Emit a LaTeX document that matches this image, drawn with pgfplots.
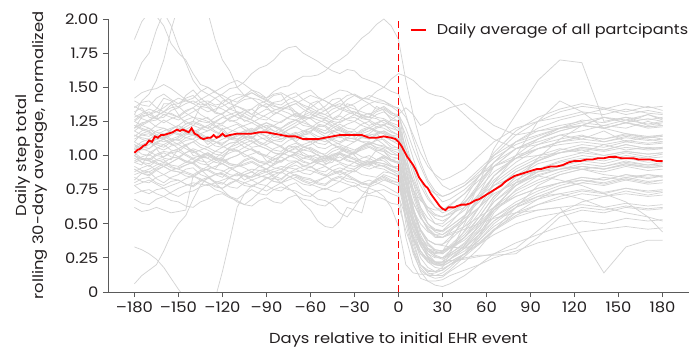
\documentclass[border=0pt]{standalone}
\usepackage{fontspec}
\setmainfont{Poppins}[FakeStretch=1.13]
\usepackage{pgfplots}
\usepackage{pgfplotstable}
\pgfplotsset{compat=1.18}
\definecolor{gl}{RGB}{212,212,212}
\definecolor{axg}{RGB}{90,90,90}
\definecolor{txt}{RGB}{35,31,32}
\definecolor{avgred}{RGB}{255,0,0}

\pgfplotstableread[header=false]{
day -180 -170 -160 -150 -140 -130 -120 -110 -100 -90 -80 -70 -60 -50 -40 -30 -20 -10 0 5 10 15 20 25 30 35 45 55 65 80 95 110 125 140 155 170 180 -175 -165 -155 -145 -135 -125 -115 -105 -95 -85 -75 -65 -55 -45 -35 -25 -15 -5
p1 1.32 1.28 1.38 1.30 1.25 1.35 1.40 1.31 1.27 1.36 1.33 1.29 1.38 1.34 1.30 1.36 1.28 1.33 1.25 1.05 0.85 0.70 0.58 0.50 0.48 0.52 0.60 0.72 0.85 0.98 1.08 1.15 1.18 1.22 1.20 1.25 1.22 1.35 1.27 1.38 1.23 1.36 1.32 1.41 1.25 1.37 1.30 1.36 1.28 1.40 1.27 1.38 1.28 1.36 1.26
p2 0.95 1.02 0.98 1.05 1.00 0.93 0.97 1.04 1.01 0.96 1.00 1.06 0.99 0.94 1.02 1.00 0.97 1.03 0.98 0.80 0.62 0.45 0.35 0.30 0.28 0.32 0.40 0.52 0.66 0.78 0.86 0.90 0.94 0.92 0.96 0.93 0.95 0.93 1.05 0.97 1.08 0.99 0.90 1.05 0.99 1.03 0.94 1.07 1.00 1.01 0.95 1.05 0.95 1.04 0.97
p3 1.10 1.18 1.12 1.22 1.15 1.08 1.20 1.16 1.12 1.19 1.14 1.10 1.17 1.21 1.13 1.18 1.15 1.11 1.06 0.82 0.55 0.35 0.25 0.20 0.22 0.30 0.45 0.62 0.80 0.92 1.00 1.05 1.02 1.08 1.04 1.06 1.05 1.16 1.13 1.19 1.16 1.14 1.12 1.14 1.18 1.17 1.13 1.16 1.15 1.22 1.16 1.17 1.14 1.16 1.06
p4 0.82 0.88 0.80 0.86 0.91 0.84 0.79 0.87 0.85 0.90 0.83 0.88 0.92 0.86 0.81 0.89 0.85 0.88 0.84 0.75 0.65 0.55 0.47 0.42 0.40 0.43 0.48 0.55 0.62 0.70 0.76 0.80 0.82 0.79 0.83 0.80 0.82 0.87 0.83 0.84 0.90 0.86 0.80 0.84 0.82 0.89 0.85 0.87 0.89 0.88 0.82 0.86 0.86 0.84 0.87
p5 1.20 1.30 1.42 1.35 1.48 1.38 1.30 1.26 1.34 1.40 1.45 1.32 1.28 1.36 1.42 1.30 1.38 1.35 1.30 1.20 1.05 0.92 0.80 0.72 0.66 0.68 0.75 0.85 0.95 1.05 1.10 1.15 1.12 1.18 1.10 1.14 1.12 1.28 1.34 1.40 1.44 1.42 1.32 1.25 1.31 1.38 1.44 1.37 1.27 1.33 1.41 1.35 1.35 1.34 1.31
p6 1.00 0.92 0.97 0.90 0.95 1.02 0.98 0.93 0.88 0.94 0.99 0.96 0.91 0.97 1.01 0.95 0.92 0.98 0.90 0.60 0.40 0.25 0.18 0.15 0.16 0.20 0.28 0.38 0.48 0.58 0.64 0.68 0.72 0.70 0.74 0.71 0.73 0.95 0.96 0.92 0.93 0.99 0.98 0.94 0.91 0.92 0.97 0.96 0.92 0.95 1.00 0.97 0.93 0.96 0.93
p7 1.08 1.05 1.12 1.09 1.15 1.11 1.06 1.10 1.14 1.08 1.12 1.17 1.10 1.05 1.09 1.13 1.10 1.07 1.04 0.95 0.82 0.70 0.62 0.57 0.55 0.58 0.65 0.78 0.92 1.05 1.12 1.18 1.22 1.28 1.24 1.30 1.26 1.04 1.10 1.08 1.13 1.12 1.07 1.09 1.13 1.10 1.11 1.15 1.12 1.06 1.08 1.12 1.10 1.08 1.05
p8 1.05 1.00 1.08 1.12 1.03 0.98 1.06 1.10 1.04 1.00 1.07 1.02 1.08 1.12 1.05 1.01 1.09 1.04 1.00 0.78 0.55 0.38 0.30 0.26 0.25 0.28 0.36 0.48 0.62 0.78 0.90 0.96 1.00 0.98 1.02 0.99 1.01 1.01 1.05 1.11 1.07 0.99 1.03 1.09 1.06 1.01 1.05 1.03 1.06 1.11 1.08 1.02 1.06 1.05 1.01
p9 1.18 1.25 1.20 1.15 1.22 1.28 1.19 1.23 1.17 1.24 1.20 1.26 1.21 1.16 1.23 1.19 1.25 1.20 1.15 0.85 0.62 0.45 0.36 0.31 0.30 0.33 0.40 0.50 0.62 0.74 0.82 0.88 0.92 0.90 0.94 0.91 0.92 1.22 1.21 1.17 1.19 1.26 1.22 1.21 1.19 1.21 1.21 1.24 1.22 1.18 1.20 1.20 1.23 1.21 1.17
p10 0.78 0.72 0.76 0.70 0.74 0.79 0.73 0.68 0.75 0.71 0.77 0.74 0.70 0.76 0.73 0.78 0.72 0.75 0.70 0.55 0.40 0.30 0.23 0.20 0.19 0.22 0.28 0.35 0.42 0.50 0.55 0.58 0.62 0.60 0.63 0.61 0.62 0.74 0.75 0.72 0.73 0.77 0.75 0.70 0.72 0.72 0.75 0.75 0.71 0.74 0.74 0.76 0.74 0.74 0.72
p11 1.40 1.36 1.45 1.38 1.42 1.50 1.44 1.39 1.46 1.41 1.37 1.43 1.48 1.40 1.36 1.44 1.41 1.38 1.35 1.28 1.15 1.02 0.92 0.86 0.82 0.84 0.90 1.00 1.10 1.20 1.25 1.28 1.32 1.30 1.34 1.31 1.30 1.37 1.42 1.41 1.40 1.47 1.46 1.41 1.43 1.43 1.38 1.41 1.46 1.43 1.37 1.41 1.42 1.39 1.36
p12 0.88 0.93 0.86 0.91 0.95 0.89 0.84 0.92 0.96 0.90 0.87 0.93 0.89 0.85 0.91 0.88 0.94 0.90 0.85 0.55 0.32 0.18 0.12 0.10 0.11 0.15 0.22 0.32 0.45 0.58 0.68 0.76 0.80 0.84 0.82 0.86 0.84 0.91 0.89 0.89 0.93 0.91 0.86 0.89 0.94 0.93 0.88 0.91 0.90 0.87 0.89 0.89 0.92 0.91 0.87
p13 1.15 1.10 1.06 1.13 1.18 1.12 1.08 1.14 1.19 1.11 1.07 1.13 1.16 1.10 1.15 1.12 1.08 1.14 1.10 0.90 0.72 0.58 0.50 0.46 0.45 0.48 0.56 0.68 0.82 0.95 1.05 1.10 1.14 1.12 1.16 1.13 1.15 1.12 1.08 1.10 1.16 1.15 1.10 1.12 1.17 1.14 1.09 1.11 1.15 1.12 1.13 1.13 1.10 1.12 1.11
p14 1.85 2.05 1.95 1.75 1.60 1.50 1.42 1.36 1.30 1.38 1.33 1.28 1.35 1.30 1.26 1.32 1.28 1.24 1.20 1.00 0.80 0.62 0.50 0.44 0.42 0.45 0.52 0.62 0.75 0.88 0.96 1.02 1.06 1.04 1.08 1.05 1.06 1.98 2.02 1.82 1.70 1.52 1.47 1.38 1.34 1.35 1.34 1.31 1.32 1.32 1.27 1.30 1.29 1.27 1.22
p15 1.30 1.45 1.70 2.10 2.20 2.05 1.70 1.50 1.42 1.38 1.35 1.40 1.33 1.30 1.36 1.32 1.28 1.34 1.28 1.15 0.98 0.82 0.70 0.62 0.58 0.60 0.66 0.76 0.88 0.98 1.05 1.10 1.14 1.12 1.15 1.13 1.14 1.40 1.55 1.92 2.15 2.12 1.85 1.62 1.44 1.41 1.36 1.38 1.36 1.31 1.34 1.33 1.30 1.32 1.30
p16 1.25 1.30 1.28 1.35 1.40 1.38 1.45 1.50 1.60 1.66 1.76 1.80 1.72 1.65 1.60 1.62 1.55 1.50 1.45 1.30 1.12 0.95 0.82 0.74 0.70 0.72 0.78 0.88 0.98 1.08 1.14 1.20 1.24 1.22 1.26 1.23 1.25 1.29 1.27 1.33 1.38 1.37 1.42 1.49 1.54 1.64 1.70 1.79 1.75 1.69 1.62 1.63 1.57 1.53 1.47
p17 1.20 1.25 1.30 1.28 1.35 1.40 1.38 1.45 1.48 1.42 1.50 1.55 1.58 1.62 1.70 1.80 1.90 2.00 1.85 1.55 1.30 1.10 0.95 0.85 0.78 0.75 0.80 0.90 1.00 1.10 1.15 1.20 1.22 1.20 1.24 1.21 1.22 1.24 1.26 1.31 1.32 1.39 1.37 1.43 1.44 1.46 1.47 1.51 1.58 1.59 1.67 1.74 1.86 1.96 1.95
p18 1.35 1.40 1.32 1.38 1.44 1.36 1.30 1.38 1.42 1.35 1.40 1.46 1.38 1.33 1.40 1.45 1.42 1.50 1.60 1.58 1.55 1.50 1.46 1.44 1.43 1.40 1.30 1.20 1.12 1.05 1.08 1.12 1.15 1.10 1.14 1.12 1.10 1.39 1.35 1.37 1.42 1.39 1.31 1.35 1.41 1.38 1.39 1.44 1.41 1.34 1.37 1.44 1.42 1.47 1.56
p19 0.33 0.28 0.18 0.02 -0.10 -0.10 0.15 0.62 0.78 0.84 0.82 0.90 0.86 0.92 0.88 0.95 0.90 0.93 0.88 0.70 0.52 0.38 0.28 0.22 0.20 0.24 0.32 0.42 0.55 0.66 0.74 0.80 0.84 0.82 0.86 0.83 0.85 0.31 0.24 0.10 -0.05 -0.12 -0.05 0.38 0.72 0.80 0.83 0.87 0.87 0.90 0.89 0.92 0.92 0.92 0.90
p20 0.06 0.16 0.30 0.50 0.68 0.84 0.88 0.92 0.95 0.90 0.96 1.00 0.94 0.98 1.02 0.97 0.93 0.99 0.95 0.75 0.55 0.40 0.32 0.27 0.25 0.28 0.35 0.46 0.60 0.72 0.80 0.86 0.90 0.88 0.92 0.89 0.90 0.12 0.20 0.42 0.56 0.78 0.86 0.91 0.93 0.92 0.94 0.99 0.96 0.97 1.01 0.99 0.94 0.97 0.96
p21 0.62 0.60 0.60 0.59 0.85 0.80 0.76 0.82 0.88 0.84 0.80 0.86 0.83 0.79 0.85 0.82 0.78 0.84 0.80 0.60 0.42 0.30 0.24 0.20 0.19 0.22 0.28 0.36 0.46 0.56 0.64 0.70 0.74 0.72 0.76 0.73 0.74 0.59 0.62 0.58 0.60 0.83 0.77 0.80 0.86 0.85 0.81 0.84 0.84 0.80 0.83 0.83 0.79 0.82 0.81
p22 0.92 0.88 0.94 0.90 0.86 0.92 0.89 0.85 0.90 0.88 0.80 0.72 0.60 0.48 0.52 0.60 0.78 0.86 0.82 0.65 0.50 0.38 0.30 0.26 0.24 0.27 0.33 0.42 0.52 0.62 0.68 0.72 0.75 0.73 0.76 0.74 0.75 0.89 0.91 0.91 0.88 0.89 0.90 0.86 0.88 0.89 0.84 0.76 0.65 0.52 0.47 0.62 0.58 0.82 0.84
p23 0.84 0.80 0.86 0.82 0.78 0.84 0.80 0.76 0.82 0.78 0.74 0.80 0.72 0.67 0.58 0.62 0.77 0.82 0.78 0.62 0.45 0.34 0.26 0.22 0.21 0.24 0.30 0.40 0.52 0.64 0.72 0.78 0.82 0.80 0.84 0.81 0.82 0.81 0.84 0.83 0.79 0.82 0.81 0.77 0.80 0.79 0.75 0.78 0.75 0.68 0.64 0.55 0.70 0.79 0.80
p24 0.90 0.86 0.92 0.88 0.84 0.90 0.86 0.82 0.88 0.84 0.80 0.86 0.82 0.78 0.84 0.80 0.76 0.70 0.48 0.20 0.14 0.13 0.13 0.14 0.16 0.20 0.25 0.27 0.27 0.28 0.40 0.55 0.60 0.58 0.62 0.60 0.61 0.87 0.90 0.89 0.85 0.88 0.87 0.83 0.86 0.85 0.81 0.84 0.83 0.79 0.82 0.81 0.77 0.74 0.62
p25 1.00 0.96 1.02 0.98 0.94 1.00 0.96 0.92 0.98 0.94 0.90 0.96 0.92 0.88 0.94 0.90 0.96 0.92 0.88 0.65 0.45 0.30 0.22 0.18 0.17 0.20 0.26 0.35 0.45 0.55 0.60 0.62 0.40 0.14 0.33 0.38 0.38 0.97 1.00 0.99 0.95 0.98 0.97 0.93 0.96 0.95 0.91 0.94 0.93 0.89 0.92 0.91 0.94 0.93 0.89
p26 1.05 1.10 1.04 1.08 1.12 1.06 1.02 1.08 1.13 1.07 1.03 1.09 1.05 1.01 1.07 1.03 1.09 1.05 1.00 0.72 0.50 0.36 0.30 0.28 0.30 0.38 0.55 0.80 1.05 1.30 1.55 1.70 1.68 1.25 1.28 1.22 1.24 1.08 1.06 1.07 1.11 1.08 1.03 1.06 1.11 1.09 1.04 1.07 1.06 1.02 1.05 1.04 1.07 1.06 1.01
p27 0.96 1.01 0.95 0.99 1.04 0.98 0.94 1.00 1.05 0.99 0.95 1.01 0.97 0.93 0.99 0.95 1.00 0.96 0.90 0.55 0.30 0.15 0.08 0.05 0.04 0.06 0.12 0.20 0.28 0.36 0.42 0.48 0.52 0.50 0.54 0.52 0.53 0.99 0.97 0.98 1.02 1.00 0.95 0.98 1.03 1.01 0.96 0.99 0.98 0.94 0.97 0.96 0.98 0.97 0.92
p28 1.26 1.32 1.24 1.29 1.35 1.27 1.23 1.30 1.34 1.28 1.24 1.31 1.27 1.22 1.29 1.25 1.31 1.27 1.22 1.05 0.90 0.78 0.68 0.62 0.60 0.63 0.72 0.85 1.00 1.15 1.25 1.32 1.36 1.34 1.38 1.35 1.36 1.30 1.27 1.27 1.33 1.30 1.24 1.28 1.33 1.30 1.25 1.28 1.28 1.23 1.26 1.26 1.29 1.28 1.24
p29 1.02 0.97 1.03 0.99 0.95 1.01 0.97 0.93 0.99 0.95 1.02 0.98 0.94 1.00 0.96 1.02 0.98 0.94 0.92 0.85 0.75 0.67 0.62 0.60 0.60 0.64 0.72 0.82 0.92 1.00 1.05 1.08 1.10 1.08 1.11 1.09 1.10 0.98 1.01 1.02 0.96 0.99 0.98 0.94 0.97 0.96 0.99 1.00 0.95 0.98 0.97 1.00 0.99 0.95 0.92
p30 1.18 1.14 1.20 1.16 1.12 1.18 1.22 1.17 1.13 1.19 1.15 1.21 1.17 1.13 1.19 1.15 1.21 1.17 1.12 0.90 0.70 0.55 0.46 0.41 0.40 0.42 0.46 0.50 0.54 0.58 0.60 0.62 0.64 0.62 0.65 0.63 0.64 1.15 1.18 1.18 1.13 1.16 1.21 1.19 1.14 1.17 1.16 1.19 1.18 1.14 1.17 1.16 1.19 1.18 1.14
p31 1.06 1.12 1.08 1.03 1.10 1.14 1.07 1.03 1.09 1.13 1.06 1.02 1.08 1.12 1.06 1.02 1.08 1.12 1.05 0.80 0.60 0.45 0.38 0.35 0.35 0.40 0.52 0.68 0.85 1.00 1.12 1.20 1.26 1.24 1.28 1.26 1.28 1.10 1.09 1.04 1.07 1.13 1.10 1.04 1.06 1.12 1.09 1.03 1.06 1.11 1.08 1.03 1.06 1.11 1.08
p32 0.98 0.94 0.99 1.03 0.97 0.93 0.99 1.04 0.98 0.94 1.00 1.05 0.99 0.95 1.01 0.97 0.93 0.99 0.94 0.75 0.60 0.50 0.44 0.42 0.42 0.46 0.54 0.62 0.72 0.80 0.85 0.82 0.78 0.72 0.66 0.55 0.44 0.95 0.97 1.02 1.00 0.94 0.96 1.02 1.01 0.95 0.97 1.03 1.02 0.96 0.98 0.99 0.94 0.97 0.96
p33 1.22 1.17 1.13 1.19 1.25 1.20 1.15 1.12 1.18 1.24 1.19 1.14 1.20 1.26 1.21 1.16 1.12 1.18 1.14 0.95 0.80 0.68 0.60 0.56 0.55 0.57 0.62 0.70 0.78 0.85 0.88 0.90 0.92 0.90 0.93 0.91 0.92 1.19 1.14 1.16 1.23 1.23 1.17 1.13 1.15 1.22 1.22 1.16 1.17 1.24 1.24 1.18 1.13 1.16 1.15
p34 0.80 0.84 0.78 0.82 0.77 0.83 0.87 0.81 0.77 0.83 0.88 0.82 0.78 0.84 0.89 0.83 0.79 0.85 0.80 0.62 0.46 0.36 0.31 0.29 0.29 0.33 0.42 0.55 0.70 0.82 0.90 0.95 0.98 0.96 1.00 0.98 0.99 0.83 0.80 0.81 0.79 0.81 0.86 0.84 0.78 0.80 0.86 0.85 0.79 0.81 0.87 0.86 0.80 0.83 0.82
p35 1.55 1.75 2.05 1.80 1.55 1.45 1.38 1.32 1.28 1.34 1.30 1.26 1.32 1.28 1.24 1.30 1.26 1.22 1.18 0.95 0.75 0.60 0.50 0.45 0.44 0.48 0.56 0.66 0.78 0.90 0.98 1.02 1.06 1.04 1.08 1.05 1.06 1.68 1.92 1.95 1.68 1.48 1.42 1.34 1.31 1.31 1.32 1.27 1.29 1.30 1.25 1.27 1.28 1.23 1.20
p36 1.12 1.16 1.10 1.14 1.19 1.13 1.09 1.15 1.20 1.14 1.10 1.16 1.12 1.08 1.14 1.10 1.16 1.22 1.30 1.35 1.30 1.22 1.25 1.30 1.32 1.35 1.38 1.30 1.22 1.15 1.18 1.20 1.22 1.20 1.24 1.21 1.22 1.15 1.12 1.12 1.17 1.16 1.10 1.12 1.18 1.17 1.11 1.14 1.14 1.09 1.12 1.11 1.14 1.20 1.26
p37 1.30 1.25 1.32 1.36 1.28 1.24 1.31 1.36 1.30 1.26 1.33 1.38 1.31 1.27 1.34 1.30 1.26 1.32 1.25 0.90 0.60 0.38 0.26 0.21 0.20 0.24 0.34 0.50 0.68 0.85 0.96 1.04 1.08 1.06 1.10 1.08 1.09 1.27 1.29 1.35 1.31 1.25 1.28 1.34 1.33 1.27 1.30 1.36 1.34 1.28 1.31 1.32 1.27 1.30 1.28
p38 0.68 0.64 0.70 0.66 0.62 0.68 0.72 0.67 0.63 0.69 0.65 0.71 0.67 0.63 0.69 0.65 0.71 0.68 0.64 0.45 0.30 0.20 0.16 0.15 0.16 0.20 0.28 0.38 0.50 0.62 0.70 0.76 0.80 0.78 0.82 0.79 0.80 0.65 0.68 0.67 0.63 0.66 0.71 0.69 0.64 0.67 0.66 0.69 0.68 0.64 0.67 0.66 0.69 0.70 0.65
p39 1.08 1.03 0.99 1.05 1.10 1.04 1.00 1.06 1.11 1.05 1.01 1.07 1.03 0.99 1.05 1.01 1.07 1.03 0.98 0.70 0.48 0.34 0.26 0.22 0.22 0.26 0.34 0.44 0.55 0.64 0.70 0.72 0.68 0.62 0.58 0.55 0.52 1.05 1.00 1.03 1.08 1.06 1.01 1.04 1.09 1.07 1.02 1.05 1.04 1.00 1.03 1.02 1.05 1.04 0.99
p40 1.14 1.20 1.16 1.11 1.17 1.22 1.15 1.11 1.17 1.22 1.16 1.12 1.18 1.22 1.16 1.12 1.18 1.23 1.15 0.70 0.38 0.20 0.14 0.12 0.12 0.16 0.26 0.40 0.58 0.75 0.85 0.90 0.92 0.90 0.94 0.92 0.93 1.18 1.17 1.12 1.15 1.20 1.18 1.12 1.15 1.20 1.18 1.13 1.16 1.21 1.18 1.13 1.16 1.21 1.18
p41 1.00 1.08 1.15 1.22 1.28 1.25 1.18 1.12 1.06 1.10 1.18 1.24 1.30 1.26 1.20 1.14 1.20 1.16 1.08 0.80 0.58 0.45 0.38 0.35 0.34 0.33 0.32 0.36 0.45 0.62 0.78 0.86 0.90 0.92 0.95 0.93 0.94 1.05 1.12 1.19 1.26 1.27 1.21 1.14 1.09 1.07 1.15 1.21 1.28 1.28 1.22 1.17 1.18 1.17 1.11
p42 1.25 1.20 1.12 1.05 0.98 0.95 1.02 1.10 1.16 1.22 1.18 1.10 1.04 0.98 1.03 1.10 1.15 1.08 1.00 0.60 0.35 0.20 0.15 0.15 0.18 0.28 0.50 0.72 0.92 1.05 1.12 1.18 1.22 1.20 1.24 1.20 1.21 1.22 1.15 1.09 1.01 0.96 0.98 1.06 1.13 1.20 1.21 1.14 1.07 1.00 1.00 1.07 1.13 1.12 1.03
p43 1.42 1.48 1.52 1.45 1.38 1.44 1.50 1.55 1.48 1.42 1.46 1.40 1.35 1.42 1.48 1.44 1.38 1.40 1.32 1.10 0.90 0.72 0.60 0.54 0.52 0.55 0.65 0.80 0.95 1.10 1.20 1.26 1.30 1.34 1.30 1.33 1.31 1.46 1.49 1.49 1.41 1.41 1.47 1.53 1.52 1.44 1.45 1.43 1.37 1.39 1.45 1.47 1.41 1.40 1.36
p44 0.95 0.98 0.92 0.88 0.85 0.90 0.94 0.88 0.82 0.86 0.90 0.85 0.80 0.84 0.88 0.82 0.78 0.83 0.78 0.55 0.38 0.28 0.24 0.22 0.22 0.23 0.24 0.26 0.28 0.32 0.45 0.58 0.66 0.70 0.72 0.70 0.71 0.97 0.95 0.89 0.87 0.88 0.92 0.91 0.85 0.84 0.88 0.88 0.82 0.82 0.86 0.85 0.80 0.81 0.80
p45 1.10 1.05 1.12 1.18 1.24 1.20 1.28 1.32 1.26 1.20 1.25 1.30 1.22 1.18 1.25 1.28 1.22 1.26 1.20 1.05 0.92 0.82 0.76 0.72 0.70 0.72 0.78 0.86 0.92 0.98 1.00 1.02 1.04 1.00 1.03 1.01 1.02 1.07 1.09 1.15 1.21 1.22 1.24 1.30 1.29 1.23 1.22 1.28 1.26 1.20 1.22 1.27 1.25 1.24 1.23
p46 0.90 0.85 0.92 0.98 1.05 1.00 0.94 0.88 0.84 0.90 0.96 1.02 0.98 0.92 0.86 0.90 0.95 0.92 0.86 0.50 0.28 0.16 0.12 0.12 0.14 0.18 0.28 0.42 0.60 0.80 0.98 1.12 1.22 1.28 1.26 1.30 1.27 0.87 0.89 0.95 1.02 1.03 0.97 0.91 0.86 0.87 0.93 0.99 1.00 0.95 0.89 0.88 0.93 0.94 0.89
p47 1.22 1.18 1.26 1.20 1.15 1.22 1.28 1.24 1.18 1.14 1.20 1.26 1.22 1.16 1.20 1.25 1.20 1.16 1.12 0.85 0.60 0.46 0.38 0.35 0.35 0.38 0.48 0.62 0.80 1.00 1.25 1.40 1.32 1.20 1.16 1.14 1.15 1.20 1.22 1.23 1.17 1.19 1.25 1.26 1.21 1.16 1.17 1.23 1.24 1.19 1.18 1.23 1.22 1.18 1.14
p48 0.72 0.75 0.70 0.76 0.80 0.78 0.82 0.86 0.84 0.88 0.92 0.90 0.94 0.98 0.95 0.92 0.96 0.94 0.90 0.68 0.50 0.40 0.34 0.31 0.30 0.32 0.38 0.48 0.60 0.70 0.76 0.80 0.84 0.82 0.86 0.84 0.85 0.74 0.72 0.73 0.78 0.79 0.80 0.84 0.85 0.86 0.90 0.91 0.92 0.96 0.97 0.93 0.94 0.95 0.92
p49 1.28 1.34 1.30 1.26 1.32 1.38 1.34 1.28 1.24 1.30 1.35 1.32 1.27 1.33 1.38 1.34 1.30 1.36 1.28 0.90 0.62 0.42 0.32 0.28 0.28 0.32 0.40 0.52 0.66 0.80 0.88 0.92 0.90 0.86 0.84 0.86 0.85 1.31 1.32 1.28 1.29 1.35 1.36 1.31 1.26 1.27 1.33 1.34 1.29 1.30 1.36 1.36 1.32 1.33 1.32
p50 1.04 1.10 1.14 1.08 1.02 1.06 1.12 1.16 1.10 1.05 1.00 1.06 1.10 1.14 1.08 1.04 1.10 1.06 1.02 0.82 0.66 0.54 0.48 0.45 0.45 0.50 0.62 0.78 0.95 1.10 1.18 1.22 1.25 1.28 1.24 1.27 1.25 1.07 1.12 1.11 1.05 1.04 1.09 1.14 1.13 1.07 1.02 1.03 1.08 1.12 1.11 1.06 1.07 1.08 1.04
p51 0.86 0.90 0.95 0.92 0.98 1.02 0.96 1.00 1.05 1.00 0.96 1.02 1.06 1.00 0.96 1.02 1.06 1.00 0.95 0.62 0.40 0.28 0.22 0.20 0.20 0.24 0.32 0.45 0.62 0.78 0.88 0.92 0.96 0.94 0.98 0.95 0.96 0.88 0.93 0.93 0.95 1.00 0.99 0.98 1.03 1.02 0.98 0.99 1.04 1.03 0.98 0.99 1.04 1.03 0.97
p52 1.15 1.12 1.18 1.22 1.16 1.10 1.14 1.20 1.24 1.18 1.12 1.16 1.20 1.14 1.10 1.16 1.12 1.18 1.12 0.92 0.75 0.62 0.54 0.50 0.50 0.55 0.68 0.85 1.02 1.18 1.28 1.34 1.38 1.35 1.32 1.36 1.33 1.13 1.15 1.20 1.19 1.13 1.12 1.17 1.22 1.21 1.15 1.14 1.18 1.17 1.12 1.13 1.14 1.15 1.15
p53 1.00 0.96 0.92 0.98 0.94 0.85 0.75 0.66 0.68 0.78 0.88 0.95 1.00 0.96 1.02 0.98 0.94 1.00 0.95 0.70 0.50 0.38 0.32 0.30 0.30 0.34 0.44 0.58 0.74 0.88 0.96 1.02 1.05 1.03 1.06 1.04 1.05 0.98 0.94 0.95 0.96 0.90 0.80 0.70 0.64 0.73 0.83 0.92 0.98 0.98 0.99 1.00 0.96 0.97 0.97
p54 1.36 1.30 1.35 1.42 1.38 1.32 1.36 1.42 1.46 1.40 1.34 1.38 1.44 1.40 1.34 1.38 1.44 1.40 1.34 1.00 0.75 0.56 0.45 0.40 0.40 0.44 0.55 0.70 0.85 0.98 1.05 1.10 1.12 1.10 1.13 1.11 1.12 1.33 1.32 1.39 1.40 1.35 1.34 1.39 1.44 1.43 1.37 1.36 1.41 1.42 1.37 1.36 1.41 1.42 1.37
p55 0.78 0.82 0.76 0.80 0.85 0.80 0.76 0.82 0.78 0.74 0.80 0.84 0.79 0.75 0.81 0.77 0.82 0.78 0.72 0.40 0.20 0.10 0.08 0.08 0.09 0.12 0.16 0.20 0.25 0.30 0.36 0.40 0.44 0.46 0.48 0.46 0.47 0.80 0.79 0.78 0.83 0.82 0.78 0.79 0.80 0.76 0.77 0.82 0.81 0.77 0.78 0.79 0.80 0.80 0.75
p56 1.20 1.26 1.32 1.28 1.22 1.18 1.24 1.30 1.26 1.20 1.16 1.22 1.28 1.24 1.18 1.14 1.20 1.26 1.18 0.80 0.52 0.36 0.28 0.25 0.25 0.30 0.40 0.55 0.70 0.84 0.94 0.98 1.02 1.00 1.03 1.01 1.02 1.23 1.29 1.30 1.25 1.20 1.21 1.27 1.28 1.23 1.18 1.19 1.25 1.26 1.21 1.16 1.17 1.23 1.22
}\raw
\pgfplotstabletranspose[colnames from=0]\datau\raw
\pgfplotstablesort[sort key=day]\data\datau

\newcommand{\fs}{\fontsize{14.5bp}{17bp}\selectfont}

\begin{document}
\begin{tikzpicture}
\useasboundingbox (0,0) rectangle (689bp,351bp);
\begin{axis}[
  at={(108bp,59bp)}, anchor=south west,
  scale only axis, width=581bp, height=273bp,
  xmin=-198, xmax=198, ymin=0, ymax=2,
  axis lines=left,
  axis line style={-, draw=axg, line width=0.9bp},
  tick style={draw=axg, line width=0.9bp},
  tick align=outside, major tick length=5bp,
  xtick={-180,-150,-120,-90,-60,-30,0,30,60,90,120,150,180},
  xticklabels={–180,–150,–120,–90,–60,–30,0,30,60,90,120,150,180},
  ytick={0,0.25,0.5,0.75,1,1.25,1.5,1.75,2},
  yticklabels={0,0.25,0.50,0.75,1.00,1.25,1.50,1.75,2.00},
  tick label style={font=\fs, text=txt},
  xticklabel style={yshift=-1bp},
  yticklabel style={xshift=-1bp},
  xlabel={Days relative to initial EHR event},
  ylabel={Daily step total\\rolling 30-day average, normalized},
  label style={font=\fs, text=txt},
  xlabel style={at={(axis description cs:0.5,-0.176)}, anchor=center},
  ylabel style={at={(axis description cs:-0.1325,0.5)}, anchor=center, align=center},
  legend style={at={(0.52,0.96)}, anchor=west, draw=none, fill=none, inner sep=0pt, font=\fontsize{14.2bp}{17bp}\selectfont, text=txt},
  legend cell align=left,
  legend image code/.code={\draw[avgred, line width=1.2bp] (0bp,0bp) -- (15bp,0bp); \path (23bp,0bp);},
]
\pgfplotsinvokeforeach{1,...,56}{
  \addplot[gl, line width=0.75bp, forget plot] table[x=day, y=p#1] {\data};
}
\addplot[avgred, line width=1.1bp, dash pattern=on 7bp off 4bp, forget plot] coordinates {(0,0) (0,2)};
\addplot[avgred, line width=1.8bp] coordinates {
(-180,1.02)(-178,1.04)(-176,1.05)(-174,1.07)(-172,1.08)(-170,1.11)(-168,1.10)(-166,1.14)(-164,1.13)(-162,1.15)
(-160,1.15)(-157,1.16)(-154,1.17)(-151,1.19)(-149,1.18)(-147,1.19)(-145,1.18)(-143,1.17)(-141,1.20)(-139,1.16)
(-137,1.15)(-135,1.13)(-133,1.12)(-130,1.13)(-128,1.13)(-126,1.15)(-124,1.13)(-122,1.14)(-120,1.16)(-118,1.14)
(-115,1.15)(-110,1.16)(-105,1.16)(-100,1.16)(-95,1.17)(-90,1.17)(-85,1.16)(-80,1.15)(-75,1.14)(-70,1.14)
(-65,1.12)(-60,1.12)(-55,1.12)(-50,1.13)(-45,1.14)(-40,1.15)(-35,1.15)(-30,1.15)(-25,1.15)(-20,1.13)
(-15,1.13)(-10,1.14)(-5,1.13)(-2,1.12)(0,1.10)(2,1.07)(4,1.03)(6,0.99)(8,0.96)(10,0.93)
(12,0.89)(14,0.84)(16,0.81)(18,0.78)(20,0.76)(22,0.72)(24,0.69)(26,0.66)(28,0.63)(30,0.61)
(32,0.60)(34,0.62)(36,0.62)(38,0.62)(40,0.63)(43,0.64)(46,0.64)(49,0.65)(52,0.67)(55,0.68)
(58,0.70)(61,0.72)(64,0.74)(67,0.76)(70,0.78)(73,0.81)(76,0.83)(79,0.85)(82,0.86)(85,0.87)
(88,0.88)(91,0.89)(94,0.90)(97,0.90)(100,0.91)(104,0.92)(108,0.92)(112,0.93)(116,0.95)(120,0.96)
(124,0.96)(128,0.97)(132,0.97)(136,0.98)(140,0.98)(144,0.99)(148,0.99)(152,0.98)(156,0.98)(160,0.98)
(164,0.97)(168,0.97)(172,0.97)(176,0.96)(180,0.96)};
\addlegendentry{Daily average of all partcipants}
\end{axis}
\end{tikzpicture}
\end{document}
